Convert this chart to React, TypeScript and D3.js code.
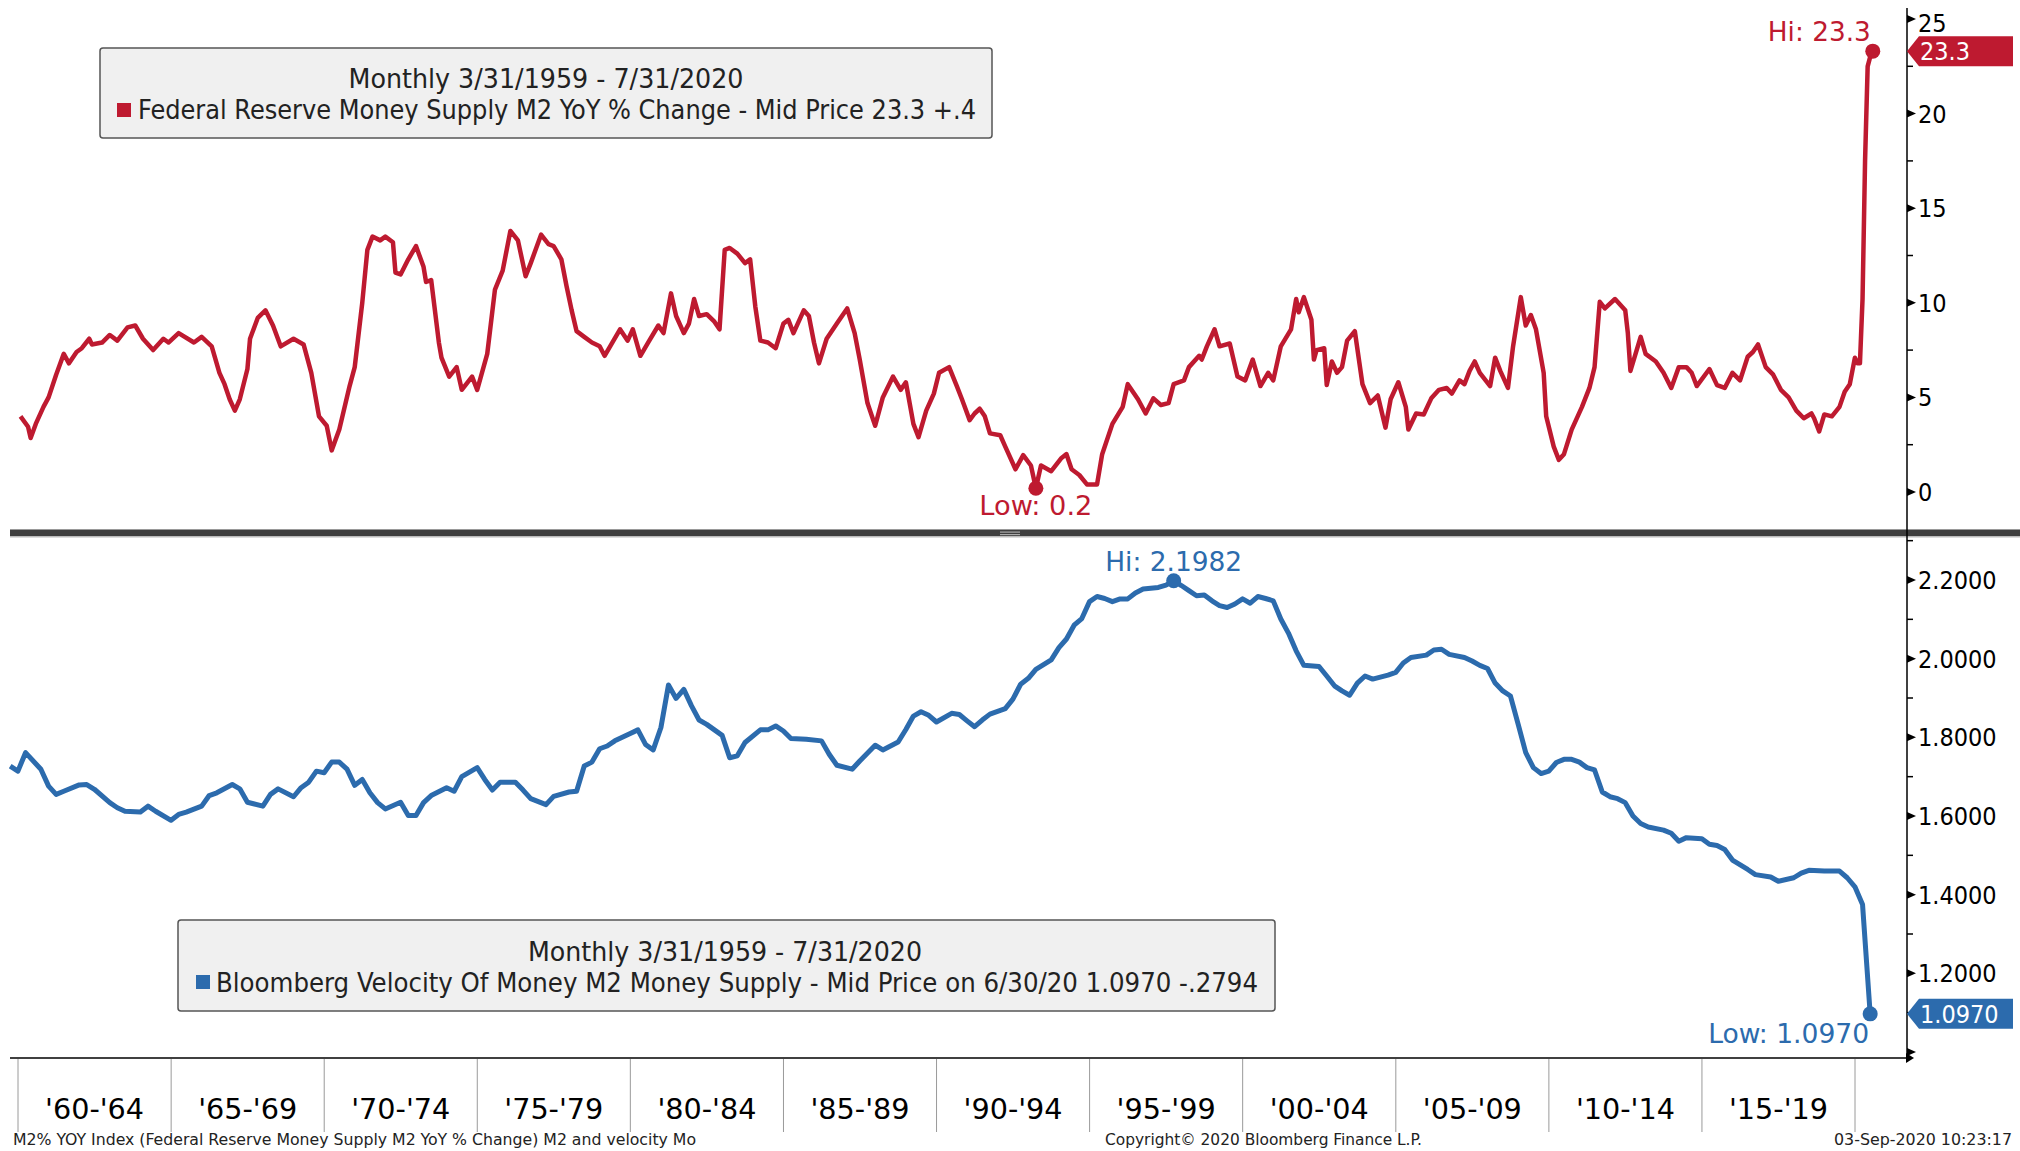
import React from "react";
import * as d3 from "d3";

// Federal Reserve Money Supply M2 YoY % change (month-end dates)
const m2YoY: [string, number][] = [
  ["1960-01", 4.0], ["1960-04", 3.45], ["1960-05", 2.85], ["1960-07", 3.6], ["1960-10", 4.5], ["1960-12", 5.0],
  ["1961-03", 6.2], ["1961-06", 7.3], ["1961-08", 6.8], ["1961-11", 7.4],
  ["1962-01", 7.6], ["1962-04", 8.1], ["1962-05", 7.8], ["1962-09", 7.9], ["1962-12", 8.3],
  ["1963-03", 8.0], ["1963-07", 8.7], ["1963-10", 8.8],
  ["1964-01", 8.1], ["1964-05", 7.5], ["1964-09", 8.1], ["1964-11", 7.9],
  ["1965-03", 8.4], ["1965-09", 7.9], ["1965-12", 8.2],
  ["1966-04", 7.7], ["1966-07", 6.3], ["1966-09", 5.7], ["1966-11", 4.9],
  ["1967-01", 4.3], ["1967-03", 4.9], ["1967-06", 6.5], ["1967-07", 8.1], ["1967-10", 9.2],
  ["1968-01", 9.6], ["1968-04", 8.8], ["1968-07", 7.7], ["1968-12", 8.1],
  ["1969-04", 7.8], ["1969-07", 6.3], ["1969-10", 4.0],
  ["1970-01", 3.5], ["1970-03", 2.2], ["1970-06", 3.3], ["1970-10", 5.6], ["1970-12", 6.6],
  ["1971-03", 10.0], ["1971-05", 12.8], ["1971-07", 13.5], ["1971-10", 13.3], ["1971-12", 13.5],
  ["1972-03", 13.2], ["1972-04", 11.6], ["1972-06", 11.5], ["1972-09", 12.3], ["1972-12", 13.0],
  ["1973-03", 11.9], ["1973-04", 11.1], ["1973-06", 11.2], ["1973-09", 7.9], ["1973-10", 7.1],
  ["1974-01", 6.1], ["1974-04", 6.6], ["1974-06", 5.4], ["1974-10", 6.1], ["1974-12", 5.4],
  ["1975-04", 7.3], ["1975-07", 10.7], ["1975-10", 11.7],
  ["1976-01", 13.8], ["1976-04", 13.3], ["1976-07", 11.4], ["1976-09", 12.1],
  ["1977-01", 13.6], ["1977-04", 13.1], ["1977-06", 13.0], ["1977-09", 12.3], ["1977-11", 10.9],
  ["1978-01", 9.6], ["1978-03", 8.5], ["1978-06", 8.2], ["1978-09", 7.9], ["1978-12", 7.7],
  ["1979-02", 7.2], ["1979-05", 7.9], ["1979-08", 8.6], ["1979-11", 8.0],
  ["1980-01", 8.6], ["1980-04", 7.2], ["1980-07", 7.9], ["1980-11", 8.8],
  ["1981-01", 8.4], ["1981-04", 10.5], ["1981-06", 9.3], ["1981-09", 8.4], ["1981-11", 8.9],
  ["1982-01", 10.2], ["1982-03", 9.3], ["1982-06", 9.4], ["1982-09", 9.0], ["1982-11", 8.6],
  ["1983-01", 12.8], ["1983-03", 12.9], ["1983-06", 12.6], ["1983-09", 12.1], ["1983-11", 12.3],
  ["1984-01", 9.8], ["1984-03", 8.0], ["1984-06", 7.9], ["1984-09", 7.6], ["1984-12", 8.9],
  ["1985-02", 9.1], ["1985-04", 8.4], ["1985-08", 9.6], ["1985-10", 9.3], ["1985-12", 7.9],
  ["1986-02", 6.8], ["1986-05", 8.1], ["1986-09", 8.9],
  ["1987-01", 9.7], ["1987-04", 8.4], ["1987-06", 7.0], ["1987-09", 4.7], ["1987-12", 3.5],
  ["1988-03", 5.0], ["1988-07", 6.1], ["1988-10", 5.4], ["1988-12", 5.8],
  ["1989-03", 3.6], ["1989-05", 2.9], ["1989-08", 4.3], ["1989-11", 5.2],
  ["1990-01", 6.3], ["1990-05", 6.6], ["1990-08", 5.6], ["1990-10", 4.9],
  ["1991-01", 3.8], ["1991-03", 4.15], ["1991-05", 4.4], ["1991-07", 4.0], ["1991-09", 3.1],
  ["1992-01", 3.0], ["1992-03", 2.4], ["1992-07", 1.2], ["1992-10", 1.95],
  ["1993-01", 1.4], ["1993-03", 0.2], ["1993-05", 1.4], ["1993-09", 1.1],
  ["1994-01", 1.8], ["1994-03", 2.0], ["1994-05", 1.2], ["1994-08", 0.9], ["1994-11", 0.4],
  ["1995-03", 0.4], ["1995-05", 2.0], ["1995-09", 3.6],
  ["1996-01", 4.5], ["1996-03", 5.7], ["1996-07", 4.9], ["1996-10", 4.15],
  ["1997-01", 4.95], ["1997-04", 4.6], ["1997-07", 4.7], ["1997-09", 5.7],
  ["1998-01", 5.9], ["1998-03", 6.6], ["1998-07", 7.2], ["1998-08", 7.0], ["1998-10", 7.7],
  ["1999-01", 8.6], ["1999-03", 7.7], ["1999-07", 7.85], ["1999-10", 6.1],
  ["2000-01", 5.9], ["2000-04", 7.0], ["2000-07", 5.6], ["2000-10", 6.3], ["2000-12", 5.9],
  ["2001-03", 7.7], ["2001-07", 8.6], ["2001-09", 10.2], ["2001-10", 9.5], ["2001-12", 10.3],
  ["2002-03", 9.1], ["2002-04", 7.0], ["2002-05", 7.5], ["2002-08", 7.6], ["2002-09", 5.65], ["2002-11", 6.9],
  ["2003-01", 6.3], ["2003-03", 6.6], ["2003-05", 8.0], ["2003-08", 8.5], ["2003-11", 5.7],
  ["2004-02", 4.7], ["2004-05", 5.1], ["2004-08", 3.4], ["2004-10", 4.9],
  ["2005-01", 5.8], ["2005-04", 4.5], ["2005-05", 3.3], ["2005-08", 4.15], ["2005-11", 4.1],
  ["2006-02", 4.95], ["2006-05", 5.4], ["2006-08", 5.5], ["2006-10", 5.2],
  ["2007-01", 5.9], ["2007-03", 5.7], ["2007-05", 6.4], ["2007-07", 6.9], ["2007-09", 6.3],
  ["2008-01", 5.6], ["2008-03", 7.1], ["2008-05", 6.4], ["2008-08", 5.5], ["2008-10", 7.7],
  ["2009-01", 10.3], ["2009-03", 8.8], ["2009-05", 9.35], ["2009-07", 8.6], ["2009-10", 6.3], ["2009-11", 4.0],
  ["2010-02", 2.4], ["2010-04", 1.7], ["2010-06", 2.0], ["2010-09", 3.3],
  ["2011-01", 4.5], ["2011-04", 5.5], ["2011-06", 6.6], ["2011-08", 10.05], ["2011-10", 9.7],
  ["2012-02", 10.2], ["2012-06", 9.6], ["2012-07", 8.4], ["2012-08", 6.4], ["2012-12", 8.2],
  ["2013-02", 7.3], ["2013-06", 6.9], ["2013-09", 6.3], ["2013-12", 5.5],
  ["2014-03", 6.6], ["2014-06", 6.6], ["2014-08", 6.3], ["2014-10", 5.6],
  ["2015-03", 6.5], ["2015-06", 5.65], ["2015-09", 5.5], ["2015-12", 6.3],
  ["2016-03", 5.9], ["2016-06", 7.15], ["2016-08", 7.4], ["2016-10", 7.8],
  ["2017-01", 6.6], ["2017-04", 6.2], ["2017-07", 5.4], ["2017-10", 5.0],
  ["2018-01", 4.3], ["2018-04", 3.9], ["2018-07", 4.15], ["2018-08", 3.9], ["2018-10", 3.2], ["2018-12", 4.1],
  ["2019-03", 4.0], ["2019-06", 4.5], ["2019-08", 5.3], ["2019-10", 5.7], ["2019-12", 7.1],
  ["2020-01", 6.8], ["2020-02", 6.8], ["2020-03", 10.2], ["2020-04", 17.5], ["2020-05", 22.5], ["2020-06", 23.0], ["2020-07", 23.3],
];

// Bloomberg Velocity of Money M2 (quarter-end dates)
const velocity: [string, number][] = [
  ["1959-09", 1.727], ["1959-12", 1.714], ["1960-03", 1.761], ["1960-09", 1.719], ["1960-12", 1.676],
  ["1961-03", 1.655], ["1961-06", 1.663], ["1961-12", 1.679], ["1962-03", 1.680], ["1962-06", 1.668],
  ["1962-12", 1.634], ["1963-03", 1.621], ["1963-06", 1.612], ["1963-12", 1.610], ["1964-03", 1.625],
  ["1964-06", 1.612], ["1964-12", 1.589], ["1965-03", 1.604], ["1965-06", 1.610], ["1965-12", 1.625],
  ["1966-03", 1.652], ["1966-06", 1.659], ["1966-12", 1.680], ["1967-03", 1.669], ["1967-06", 1.635],
  ["1967-12", 1.625], ["1968-03", 1.655], ["1968-06", 1.669], ["1968-12", 1.649], ["1969-03", 1.672],
  ["1969-06", 1.686], ["1969-09", 1.714], ["1969-12", 1.710], ["1970-03", 1.737], ["1970-06", 1.737],
  ["1970-09", 1.719], ["1970-12", 1.678], ["1971-03", 1.693], ["1971-06", 1.659], ["1971-09", 1.634],
  ["1971-12", 1.618], ["1972-06", 1.635], ["1972-09", 1.601], ["1972-12", 1.601], ["1973-03", 1.634],
  ["1973-06", 1.652], ["1973-12", 1.672], ["1974-03", 1.663], ["1974-06", 1.700], ["1974-12", 1.723],
  ["1975-03", 1.693], ["1975-06", 1.666], ["1975-09", 1.686], ["1976-03", 1.686], ["1976-06", 1.666],
  ["1976-09", 1.644], ["1977-03", 1.629], ["1977-06", 1.650], ["1977-12", 1.661], ["1978-03", 1.663],
  ["1978-06", 1.727], ["1978-09", 1.737], ["1978-12", 1.771], ["1979-03", 1.778], ["1979-06", 1.791],
  ["1979-12", 1.810], ["1980-03", 1.819], ["1980-06", 1.782], ["1980-09", 1.768], ["1980-12", 1.825],
  ["1981-03", 1.933], ["1981-06", 1.899], ["1981-09", 1.922], ["1981-12", 1.880], ["1982-03", 1.844],
  ["1982-06", 1.833], ["1982-12", 1.805], ["1983-03", 1.748], ["1983-06", 1.753], ["1983-09", 1.787],
  ["1984-03", 1.819], ["1984-06", 1.819], ["1984-09", 1.829], ["1984-12", 1.816], ["1985-03", 1.797],
  ["1985-09", 1.795], ["1986-03", 1.791], ["1986-06", 1.757], ["1986-09", 1.729], ["1987-03", 1.719],
  ["1987-06", 1.740], ["1987-12", 1.780], ["1988-03", 1.768], ["1988-09", 1.788], ["1988-12", 1.820],
  ["1989-03", 1.854], ["1989-06", 1.865], ["1989-09", 1.856], ["1989-12", 1.839], ["1990-06", 1.861],
  ["1990-09", 1.858], ["1990-12", 1.842], ["1991-03", 1.827], ["1991-06", 1.844], ["1991-09", 1.859],
  ["1992-03", 1.873], ["1992-06", 1.897], ["1992-09", 1.935], ["1992-12", 1.950], ["1993-03", 1.973],
  ["1993-09", 1.997], ["1993-12", 2.028], ["1994-03", 2.050], ["1994-06", 2.085], ["1994-09", 2.102],
  ["1994-12", 2.145], ["1995-03", 2.158], ["1995-06", 2.153], ["1995-09", 2.145], ["1995-12", 2.152],
  ["1996-03", 2.152], ["1996-06", 2.167], ["1996-09", 2.177], ["1997-03", 2.181], ["1997-06", 2.187],
  ["1997-09", 2.1982], ["1997-12", 2.186], ["1998-03", 2.173], ["1998-06", 2.160], ["1998-09", 2.162],
  ["1998-12", 2.147], ["1999-03", 2.135], ["1999-06", 2.130], ["1999-09", 2.139], ["1999-12", 2.152],
  ["2000-03", 2.141], ["2000-06", 2.158], ["2000-09", 2.153], ["2000-12", 2.147], ["2001-03", 2.101],
  ["2001-06", 2.065], ["2001-09", 2.020], ["2001-12", 1.983], ["2002-06", 1.980], ["2002-09", 1.956],
  ["2002-12", 1.931], ["2003-03", 1.918], ["2003-06", 1.907], ["2003-09", 1.938], ["2003-12", 1.956],
  ["2004-03", 1.948], ["2004-09", 1.958], ["2004-12", 1.965], ["2005-03", 1.989], ["2005-06", 2.003],
  ["2005-12", 2.009], ["2006-03", 2.022], ["2006-06", 2.024], ["2006-09", 2.011], ["2007-03", 2.003],
  ["2007-06", 1.994], ["2007-09", 1.983], ["2007-12", 1.975], ["2008-03", 1.938], ["2008-06", 1.918],
  ["2008-09", 1.905], ["2008-12", 1.833], ["2009-03", 1.761], ["2009-06", 1.723], ["2009-09", 1.708],
  ["2009-12", 1.714], ["2010-03", 1.736], ["2010-06", 1.744], ["2010-09", 1.744], ["2010-12", 1.737],
  ["2011-03", 1.723], ["2011-06", 1.717], ["2011-09", 1.661], ["2011-12", 1.649], ["2012-03", 1.644],
  ["2012-06", 1.634], ["2012-09", 1.600], ["2012-12", 1.581], ["2013-03", 1.572], ["2013-09", 1.564],
  ["2013-12", 1.556], ["2014-03", 1.536], ["2014-06", 1.545], ["2014-12", 1.542], ["2015-03", 1.528],
  ["2015-06", 1.525], ["2015-09", 1.515], ["2015-12", 1.488], ["2016-06", 1.464], ["2016-09", 1.451],
  ["2017-03", 1.445], ["2017-06", 1.434], ["2017-12", 1.443], ["2018-03", 1.455], ["2018-06", 1.462],
  ["2018-12", 1.460], ["2019-06", 1.460], ["2019-09", 1.443], ["2019-12", 1.420], ["2020-03", 1.375],
  ["2020-06", 1.097],
];

const m2Ticks = [0, 5, 10, 15, 20, 25];
const m2Minor = [2.5, 7.5, 12.5, 17.5, 22.5];
const velTicks = [1.0, 1.2, 1.4, 1.6, 1.8, 2.0, 2.2];
const velLabels = ["1.2000", "1.4000", "1.6000", "1.8000", "2.0000", "2.2000"];
const velMinor = [1.1, 1.3, 1.5, 1.7, 1.9, 2.1, 2.3];
const periodYears = [1960, 1965, 1970, 1975, 1980, 1985, 1990, 1995, 2000, 2005, 2010, 2015, 2020];
const periodLabels = ["'60-'64", "'65-'69", "'70-'74", "'75-'79", "'80-'84", "'85-'89", "'90-'94", "'95-'99", "'00-'04", "'05-'09", "'10-'14", "'15-'19"];

const RED = "#BE1A30";
const BLUE = "#2C6BAD";
const FONT = "'DejaVu Sans Condensed', 'DejaVu Sans', sans-serif";

function monthEnd(s: string): Date {
  const [y, m] = s.split("-").map(Number);
  return new Date(y, m, 0);
}

export default function App() {
  const x = d3.scaleTime().domain([new Date(1960, 0, 1), new Date(2020, 0, 1)]).range([18, 1855]);
  const yTop = d3.scaleLinear().domain([0, 25]).range([492, 19]);
  const yBot = d3.scaleLinear().domain([1.0, 2.2]).range([1052, 580]);
  const axisX = 1907;

  const redPath = d3.line<[string, number]>().x((d) => x(monthEnd(d[0]))).y((d) => yTop(d[1]))(m2YoY) || "";
  const bluePath = d3.line<[string, number]>().x((d) => x(monthEnd(d[0]))).y((d) => yBot(d[1]))(velocity) || "";

  const rHi = m2YoY[d3.maxIndex(m2YoY, (d) => d[1])];
  const rLo = m2YoY[d3.minIndex(m2YoY, (d) => d[1])];
  const bHi = velocity[d3.maxIndex(velocity, (d) => d[1])];
  const bLo = velocity[d3.minIndex(velocity, (d) => d[1])];
  const rLast = m2YoY[m2YoY.length - 1];
  const bLast = velocity[velocity.length - 1];

  const tag = (cy: number, fill: string, label: string) => (
    <g>
      <polygon
        points={`${axisX},${cy} ${axisX + 12},${cy - 15} 2013,${cy - 15} 2013,${cy + 15} ${axisX + 12},${cy + 15}`}
        fill={fill}
      />
      <text x={axisX + 13} y={cy + 9} fill="#fff" fontSize={25} fontFamily={FONT}>{label}</text>
    </g>
  );

  return (
    <svg width={2020} height={1151} style={{ position: "absolute", left: 0, top: 0, background: "#fff" }}>
      <rect x={0} y={0} width={2020} height={1151} fill="#fff" />

      {/* Series lines */}
      <path d={redPath} fill="none" stroke={RED} strokeWidth={4.5} strokeLinejoin="round" />
      <path d={bluePath} fill="none" stroke={BLUE} strokeWidth={5} strokeLinejoin="round" />

      {/* Upper legend */}
      <rect x={100} y={48} width={892} height={90} rx={3} fill="#F0F0F0" stroke="#555" strokeWidth={1.5} />
      <text x={546} y={88} textAnchor="middle" fontSize={26} fontFamily={FONT} fill="#222" textLength={395} lengthAdjust="spacingAndGlyphs">
        Monthly 3/31/1959 - 7/31/2020
      </text>
      <rect x={117} y={103} width={14} height={14} fill={RED} />
      <text x={138} y={119} fontSize={26} fontFamily={FONT} fill="#222" textLength={838} lengthAdjust="spacingAndGlyphs">
        {"Federal Reserve Money Supply M2 YoY % Change - Mid Price 23.3  +.4"}
      </text>

      {/* Lower legend */}
      <rect x={178} y={920} width={1097} height={91} rx={3} fill="#F0F0F0" stroke="#555" strokeWidth={1.5} />
      <text x={725} y={961} textAnchor="middle" fontSize={26} fontFamily={FONT} fill="#222" textLength={394} lengthAdjust="spacingAndGlyphs">
        Monthly 3/31/1959 - 7/31/2020
      </text>
      <rect x={196} y={975} width={14} height={14} fill={BLUE} />
      <text x={216} y={992} fontSize={26} fontFamily={FONT} fill="#222" textLength={1042} lengthAdjust="spacingAndGlyphs">
        {"Bloomberg Velocity Of Money M2 Money Supply - Mid Price on 6/30/20 1.0970  -.2794"}
      </text>

      {/* Hi / Low markers */}
      <circle cx={x(monthEnd(rHi[0]))} cy={yTop(rHi[1])} r={7.5} fill={RED} />
      <text x={x(monthEnd(rHi[0])) - 2} y={41} textAnchor="end" fontSize={26} fontFamily={FONT} fill={RED} textLength={103} lengthAdjust="spacingAndGlyphs">
        {`Hi: ${rHi[1].toFixed(1)}`}
      </text>
      <circle cx={x(monthEnd(rLo[0]))} cy={yTop(rLo[1])} r={7.5} fill={RED} />
      <text x={x(monthEnd(rLo[0]))} y={515} textAnchor="middle" fontSize={26} fontFamily={FONT} fill={RED} textLength={113} lengthAdjust="spacingAndGlyphs">
        {`Low: ${rLo[1].toFixed(1)}`}
      </text>
      <circle cx={x(monthEnd(bHi[0]))} cy={yBot(bHi[1])} r={7.5} fill={BLUE} />
      <text x={x(monthEnd(bHi[0]))} y={571} textAnchor="middle" fontSize={26} fontFamily={FONT} fill={BLUE} textLength={137} lengthAdjust="spacingAndGlyphs">
        {`Hi: ${bHi[1].toFixed(4)}`}
      </text>
      <circle cx={x(monthEnd(bLo[0]))} cy={yBot(bLo[1])} r={7.5} fill={BLUE} />
      <text x={x(monthEnd(bLo[0])) - 1} y={1043} textAnchor="end" fontSize={26} fontFamily={FONT} fill={BLUE} textLength={161} lengthAdjust="spacingAndGlyphs">
        {`Low: ${bLo[1].toFixed(4)}`}
      </text>

      {/* Panel separator */}
      <rect x={10} y={529} width={2010} height={1} fill="#999" />
      <rect x={10} y={530} width={2010} height={6} fill="#3E3E3E" />
      <rect x={10} y={536} width={2010} height={1.5} fill="#bbb" />
      <rect x={1000} y={531.5} width={20} height={1.2} fill="#aaa" />
      <rect x={1000} y={534} width={20} height={1.2} fill="#aaa" />

      {/* Right axis */}
      <line x1={axisX} y1={8} x2={axisX} y2={1062} stroke="#000" strokeWidth={1.5} />
      {m2Ticks.map((t) => (
        <g key={"mt" + t}>
          <polygon points={`${axisX},${yTop(t) - 4} ${axisX + 9},${yTop(t)} ${axisX},${yTop(t) + 4}`} fill="#000" />
          <text x={1918} y={yTop(t) + (t === 25 ? 13 : 9)} fontSize={25} fontFamily={FONT} fill="#000">{t}</text>
        </g>
      ))}
      {m2Minor.map((t) => (
        <line key={"mm" + t} x1={axisX} x2={axisX + 6} y1={yTop(t)} y2={yTop(t)} stroke="#000" strokeWidth={1.5} />
      ))}
      {velTicks.map((t, i) => (
        <g key={"vt" + t}>
          <polygon points={`${axisX},${yBot(t) - 4} ${axisX + 9},${yBot(t)} ${axisX},${yBot(t) + 4}`} fill="#000" />
          {i > 0 && (
            <text x={1918} y={yBot(t) + 9} fontSize={25} fontFamily={FONT} fill="#000">{velLabels[i - 1]}</text>
          )}
        </g>
      ))}
      {velMinor.map((t) => (
        <line key={"vm" + t} x1={axisX} x2={axisX + 6} y1={yBot(t)} y2={yBot(t)} stroke="#000" strokeWidth={1.5} />
      ))}

      {/* Last value tags */}
      {tag(yTop(rLast[1]), RED, rLast[1].toFixed(1))}
      {tag(yBot(bLast[1]), BLUE, bLast[1].toFixed(4))}

      {/* Time axis */}
      <line x1={10} y1={1058} x2={1908} y2={1058} stroke="#000" strokeWidth={1.5} />
      <polygon points="1906,1053 1914,1058 1906,1063" fill="#000" />
      {periodYears.map((yr) => (
        <line key={"sep" + yr} x1={x(new Date(yr, 0, 1))} x2={x(new Date(yr, 0, 1))} y1={1059} y2={1132} stroke="#9a9a9a" strokeWidth={1} />
      ))}
      {periodLabels.map((lab, i) => {
        const cx = (x(new Date(periodYears[i], 0, 1)) + x(new Date(periodYears[i + 1], 0, 1))) / 2;
        return (
          <text key={lab} x={cx} y={1119} textAnchor="middle" fontSize={28} fontFamily={FONT} fill="#000" textLength={99} lengthAdjust="spacingAndGlyphs">
            {lab}
          </text>
        );
      })}

      {/* Footer */}
      <text x={13} y={1145} fontSize={16} fontFamily={FONT} fill="#222" textLength={683} lengthAdjust="spacingAndGlyphs">
        {"M2% YOY Index (Federal Reserve Money Supply M2 YoY % Change) M2 and velocity  Mo"}
      </text>
      <text x={1105} y={1145} fontSize={16} fontFamily={FONT} fill="#222" textLength={317} lengthAdjust="spacingAndGlyphs">
        Copyright© 2020 Bloomberg Finance L.P.
      </text>
      <text x={2012} y={1145} textAnchor="end" fontSize={16} fontFamily={FONT} fill="#222" textLength={178} lengthAdjust="spacingAndGlyphs">
        03-Sep-2020 10:23:17
      </text>
    </svg>
  );
}
